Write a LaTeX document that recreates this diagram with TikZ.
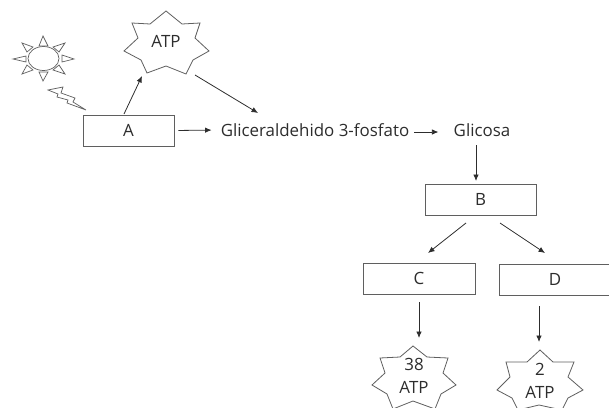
\documentclass[tikz,border=0pt]{standalone}
\usepackage{fontspec}
\setmainfont{Open Sans}
\usetikzlibrary{arrows.meta}
\definecolor{ink}{RGB}{45,45,45}
\definecolor{edge}{RGB}{95,95,95}
\tikzset{
  x=1pt,y=-1pt,
  lbl/.style={inner sep=0pt,text=ink,font=\fontsize{16.9}{23}\selectfont,align=center},
  boxn/.style={draw=edge,line width=0.9pt,fill=white,inner sep=0pt,text=ink,font=\fontsize{16.9}{23}\selectfont},
  outline/.style={draw=edge,line width=0.8pt,line join=miter,fill=white},
  thin outline/.style={draw=edge,line width=0.7pt,line join=miter,fill=white},
  conn/.style={draw=ink,line width=0.8pt,-{Latex[length=6.5pt,width=5.5pt]}},
}
\begin{document}
\begin{tikzpicture}
\useasboundingbox (0,0) rectangle (609,407);
\clip (0,0) rectangle (609,407);
% sun
\draw[thin outline] (43.5,58.5) ellipse [x radius=15.5,y radius=12];
\draw[thin outline] (43,36) -- (39,46) -- (48,46) -- cycle;
\draw[thin outline] (74,59) -- (62,55) -- (62,62) -- cycle;
\draw[thin outline] (13,59) -- (26,56) -- (26,62) -- cycle;
\draw[thin outline] (43,81) -- (39,72) -- (48,72) -- cycle;
\draw[thin outline] (65,43) -- (53,47) -- (59,52) -- cycle;
\draw[thin outline] (65,74) -- (53,70) -- (59,65) -- cycle;
\draw[thin outline] (22,43) -- (33,47) -- (27,52) -- cycle;
\draw[thin outline] (22,74) -- (33,70) -- (27,65) -- cycle;
% lightning
\draw[thin outline] (48,90) -- (63,87) -- (61,93) -- (75,98) -- (73,102) -- (86,110) -- (67,103) -- (68,100) -- (57,97) -- (58,94) -- cycle;
% stars
\draw[outline] (166,11) -- (182,24) -- (200,23) -- (195,38) -- (209,51) -- (193,60) -- (186,74) -- (166,66) -- (147,73) -- (141,60) -- (124,51) -- (138,38) -- (132,23) -- (150,24) -- cycle;
\draw[outline] (413,346) -- (427,357) -- (448,358) -- (443,373) -- (456,385) -- (441,394) -- (435,409) -- (413,401) -- (393,409) -- (387,394) -- (372,385) -- (385,373) -- (380,358) -- (400,357) -- cycle;
\draw[outline] (540,350) -- (553,362) -- (574,362) -- (568,377) -- (583,390) -- (568,398) -- (562,410) -- (539,405) -- (518,410) -- (512,398) -- (497,390) -- (510,377) -- (506,362) -- (527,362) -- cycle;
% nodes
\node[boxn,minimum width=91pt,minimum height=31pt] (A) at (128.5,130.5) {A};
\node[boxn,minimum width=111pt,minimum height=31pt] (B) at (480.5,199.5) {B};
\node[boxn,minimum width=112pt,minimum height=31pt] (C) at (419,278.5) {C};
\node[boxn,minimum width=112pt,minimum height=31pt] (D) at (555,279.5) {D};
\node[lbl] (atp) at (166,41) {ATP};
\node[lbl] (gap) at (315,130) {Gliceraldehido 3-fosfato};
\node[lbl] (glu) at (482,130) {Glicosa};
\node[lbl] (atpc) at (414,376) {38\\ATP};
\node[lbl] (atpd) at (540,381) {2\\ATP};
% connector ends at the star outlines
\coordinate (atpin) at (142,76);
\coordinate (atpout) at (195,75);
\coordinate (aout) at (124,114);
\coordinate (gapin) at (258,113);
\coordinate (cin) at (419,338);
\coordinate (dinp) at (539,342);
\coordinate (cout) at (419,302);
\coordinate (dout) at (539,306);
\coordinate (bl) at (466,223);
\coordinate (br) at (500,223);
\coordinate (cl) at (428,253);
\coordinate (dr) at (545,253);
\coordinate (glout) at (476,145);
\coordinate (bin) at (476,181);
% connectors
\draw[conn] (aout) -- (atpin);
\draw[conn] (atpout) -- (gapin);
\draw[conn,shorten <=4pt,shorten >=9pt] (A.east) -- (gap.west);
\draw[conn,shorten <=5pt,shorten >=15pt] (gap.east) ++(0,2) -- ++(44,0);
\draw[conn] (glout) -- (bin);
\draw[conn] (bl) -- (cl);
\draw[conn] (br) -- (dr);
\draw[conn] (cout) -- (cin);
\draw[conn] (dout) -- (dinp);
\end{tikzpicture}
\end{document}
